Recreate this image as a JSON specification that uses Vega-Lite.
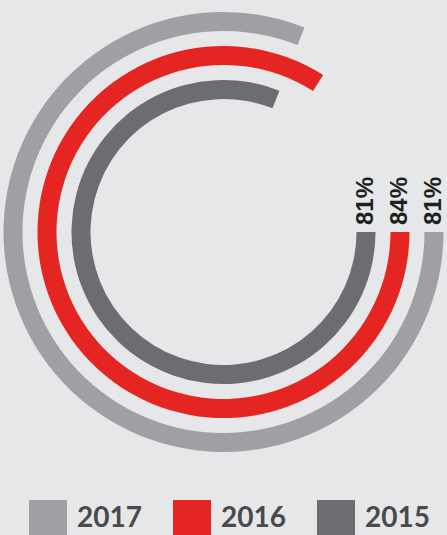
{
  "$schema": "https://vega.github.io/schema/vega-lite/v6.json",
  "width": 447,
  "height": 464,
  "padding": {"left": 0, "top": 0, "right": 0, "bottom": 71},
  "autosize": {"type": "none"},
  "background": "#e6e7e8",
  "config": {"view": {"stroke": null}},
  "data": {"values": [
    {"year": 2017, "value": 81, "label": "81%"},
    {"year": 2016, "value": 84, "label": "84%"},
    {"year": 2015, "value": 81, "label": "81%"}
  ]},
  "layer": [
    {
      "mark": {"type": "arc", "radius2Offset": -19},
      "encoding": {
        "theta": {"field": "value", "type": "quantitative", "stack": null, "scale": {"domain": [0, 100], "range": [1.5708, 7.854]}},
        "theta2": {"datum": 0},
        "radius": {"field": "year", "type": "quantitative", "scale": {"type": "linear", "zero": false, "domain": [2015, 2017], "range": [152, 220]}},
        "radius2": {"field": "year"},
        "color": {
          "field": "year", "type": "nominal",
          "scale": {"domain": [2017, 2016, 2015], "range": ["#9fa0a3", "#e42522", "#6c6d70"]},
          "legend": {
            "orient": "none", "legendX": 29, "legendY": 500, "direction": "horizontal",
            "title": null, "symbolType": "square", "symbolSize": 1444, "symbolStrokeWidth": 0,
            "symbolOpacity": 1, "labelFontSize": 28, "labelFont": "Lato", "labelFontWeight": "bold",
            "labelColor": "#4a4a4c", "labelOffset": 10, "columnPadding": 31
          }
        }
      }
    },
    {
      "mark": {"type": "text", "angle": 270, "align": "left", "baseline": "middle", "dx": 7, "dy": -10, "fontSize": 24, "fontWeight": "bold", "font": "Liberation Sans", "color": "#231f20"},
      "encoding": {
        "theta": {"datum": 0, "type": "quantitative"},
        "radius": {"field": "year", "type": "quantitative"},
        "text": {"field": "label"}
      }
    }
  ]
}
